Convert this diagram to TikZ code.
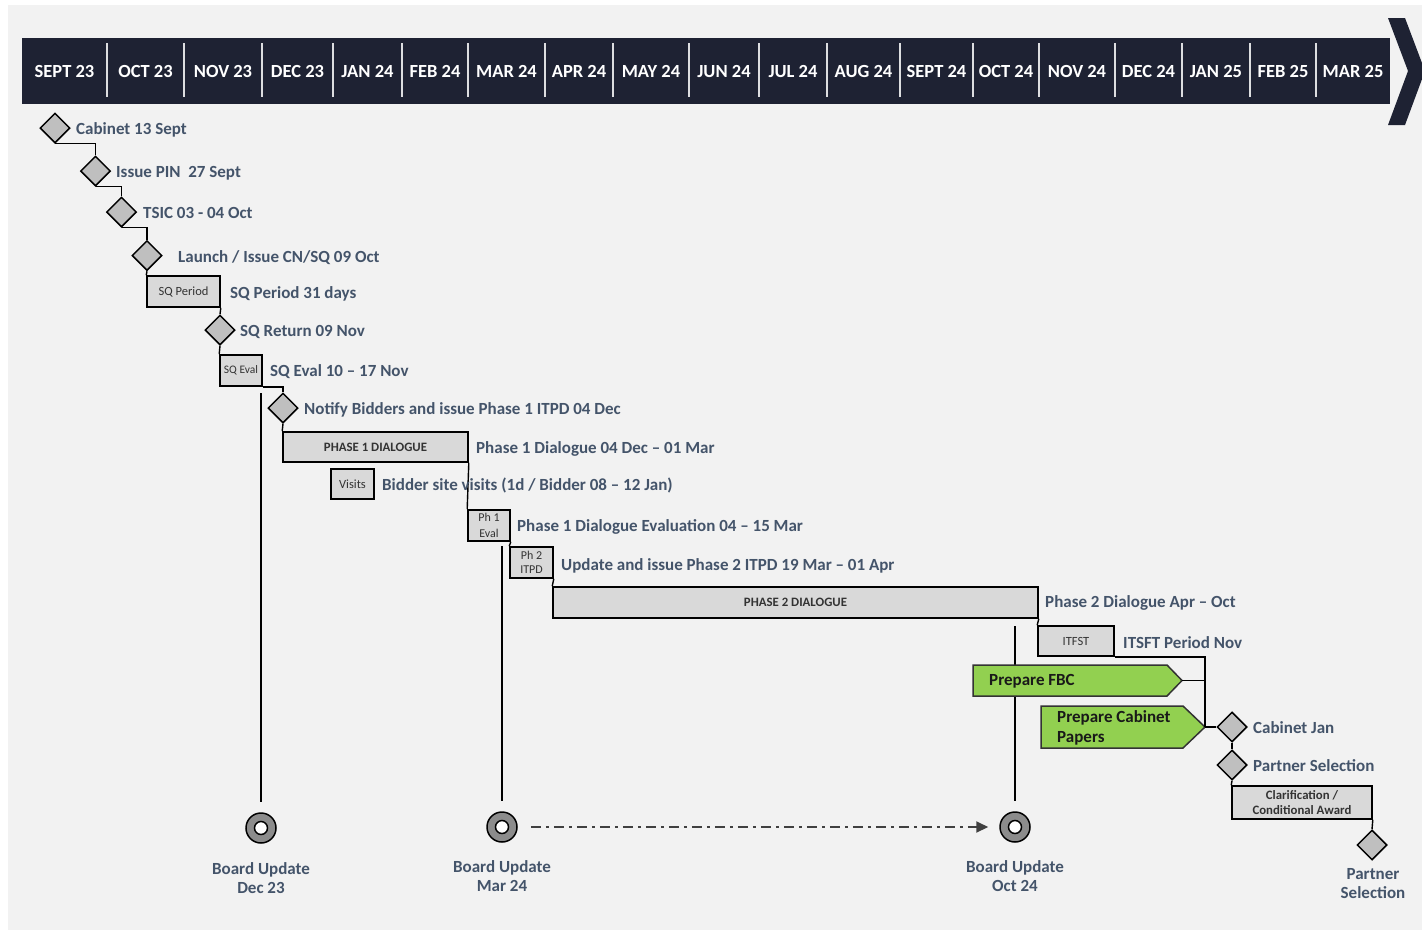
\documentclass[tikz,border=0pt]{standalone}
\usepackage{fontspec}
\setmainfont{Carlito}
\usetikzlibrary{shapes.geometric,arrows.meta}
\definecolor{navy}{HTML}{1E2233}
\definecolor{bggray}{HTML}{F2F2F2}
\definecolor{boxgray}{HTML}{D9D9D9}
\definecolor{diagray}{HTML}{BFBFBF}
\definecolor{lbl}{HTML}{44546A}
\definecolor{grn}{HTML}{92D050}
\newcommand{\fsz}[2]{\fontsize{#1}{#2}\selectfont}
\begin{document}
\begin{tikzpicture}
      [x=1pt,y=-1pt
      ,mon/.style={text=white,font=\fsz{18.5}{22}\bfseries,inner sep=0}
      ,sep/.style={color=white!85!navy,line width=1.5pt}
      ,lin/.style={line width=1.4pt}
      ,ms/.style={diamond,draw,fill=diagray,line width=1.5pt,minimum size=30pt,inner sep=0}
      ,bx/.style={draw,fill=boxgray,line width=1.6pt,inner sep=0,minimum height=31pt,text=black!80,font=\fsz{12.5}{15}}
      ,lab/.style={anchor=west,inner sep=0,text=lbl,font=\fsz{17}{20}\bfseries,text height=14pt,text depth=3.4pt}
      ,gr/.style={draw=black!80,fill=grn,line width=1.5pt}
      ,grt/.style={anchor=west,align=left,inner sep=0,text=black!90,font=\fsz{17}{20}\bfseries}
      ,bu/.style={circle,draw,fill=gray!90,line width=1.5pt,minimum size=30pt,inner sep=0}
      ,but/.style={align=center,text=lbl,font=\fsz{17}{19.5}\bfseries,inner sep=0}
      ]
        \useasboundingbox (0,0) rectangle (1422,932);
        \clip (0,0) rectangle (1422,932);
        \fill[white] (0,0) rectangle (1422,932);
        \fill[bggray] (8,5) rectangle (1422,930);
        % month bar
        \fill[navy] (22,38) rectangle (1390,104);
        \fill[navy] (1388,18) -- (1405,18) -- (1425,71) -- (1405,125) -- (1388,125) -- (1408,71) -- cycle;
        \foreach \x in {107,184,262,333,402,468,545,613,689,759,827,900,973,1039,1115,1182,1250,1316}
          \draw[sep] (\x,43) -- (\x,97);
        \foreach \m/\a/\b [count=\i] in {SEPT 23/22/107,OCT 23/107/184,NOV 23/184/262,DEC 23/262/333,
            JAN 24/333/402,FEB 24/402/468,MAR 24/468/545,APR 24/545/613,MAY 24/613/689,JUN 24/689/759,
            JUL 24/759/827,AUG 24/827/900,SEPT 24/900/973,OCT 24/973/1039,NOV 24/1039/1115,
            DEC 24/1115/1182,JAN 25/1182/1250,FEB 25/1250/1316,MAR 25/1316/1390}
          \node[mon] (mon\i) at ({(\a+\b)/2},71) {\m};
        % board update lines
        \node[bu] (bu1) at (261,828) {};
        \node[bu] (bu2) at (502,827) {};
        \node[bu] (bu3) at (1015,827) {};
        \foreach \n in {bu1,bu2,bu3}
          \draw[line width=1.5pt,fill=white] (\n.center) circle (6.5);
        \coordinate (t1) at (261,393);
        \coordinate (t2) at (502,546);
        \coordinate (t3) at (1015,626);
        \draw[lin,shorten >=10pt] (t1) -- (bu1);
        \draw[lin,shorten >=10pt] (t2) -- (bu2);
        \draw[lin,shorten >=10pt] (t3) -- (bu3);
        \draw[line width=2pt,black!75,dash pattern=on 10pt off 5pt on 3pt off 5pt
             ,-{Triangle[length=12pt,width=11pt]},shorten <=13pt,shorten >=11pt] (bu2) -- (bu3);
        \node[but] (bul1) at (261,878) {Board Update\\Dec 23};
        \node[but] (bul2) at (502,876) {Board Update\\Mar 24};
        \node[but] (bul3) at (1015,876) {Board Update\\Oct 24};
        % milestones and stages
        \node[ms] (cab) at (55,128) {};
        \node[ms] (pin) at (95.5,171) {};
        \node[ms] (tsic) at (121.5,212) {};
        \node[ms] (lau) at (147,255.5) {};
        \node[bx,minimum width=73pt] (sqp) at (183.5,291.5) {SQ Period};
        \node[ms] (sqr) at (220,330) {};
        \node[bx,minimum width=42pt,font=\fsz{11.5}{13}] (sqe) at (241,370.5) {SQ Eval};
        \node[ms] (noti) at (283,408) {};
        \node[bx,minimum width=185pt,minimum height=30pt,font=\fsz{12.8}{14}\bfseries] (ph1) at (375.5,447) {PHASE 1 DIALOGUE};
        \node[bx,minimum width=43pt,minimum height=30pt] (vis) at (352.5,484) {Visits};
        \node[bx,minimum width=42pt,align=center,font=\fsz{12}{15.5}] (ev1) at (489,525.5) {Ph 1\\Eval};
        \node[bx,minimum width=43pt,align=center,font=\fsz{12}{14.5}] (it2) at (531.5,562.5) {Ph 2\\ITPD};
        \node[bx,minimum width=485pt,font=\fsz{12.8}{14}\bfseries] (ph2) at (795.5,602.5) {PHASE 2 DIALOGUE};
        \node[bx,minimum width=76pt,minimum height=30pt] (itf) at (1076,641) {ITFST};
        \node[ms] (cabj) at (1232,727) {};
        \node[ms] (psel) at (1232,765) {};
        \node[bx,minimum width=140pt,minimum height=33pt,align=center,font=\fsz{12.8}{15.5}\bfseries] (clr) at (1302,802.5) {Clarification /\\Conditional Award};
        \node[ms] (fin) at (1372,845) {};
        \node[but] (finl) at (1373,883.5) {Partner\\Selection};
        % green tasks
        \draw[gr] (973,665) -- (1167,665) -- (1182,680.5) -- (1167,696) -- (973,696) -- cycle;
        \draw[gr] (1041,706) -- (1183,706) -- (1205,727) -- (1183,748) -- (1041,748) -- cycle;
        \coordinate (fbct) at (1182,680.5);
        \coordinate (papt) at (1205,727);
        \node[grt] (fbc) at (989,681.5) {Prepare FBC};
        \node[grt] (pap) at (1057,728) {Prepare Cabinet\\Papers};
        % connectors
        \draw[lin] (cab.south) -| (pin.north);
        \draw[lin] (pin.south) -| (tsic.north);
        \draw[lin] (tsic.south) -| (lau.north);
        \draw[lin] (lau.south) -- (sqp.north west);
        \draw[lin] (sqp.south east) -- (sqr.north);
        \draw[lin] (sqr.south) -- (sqe.north west);
        \draw[lin] (sqe.south east) -| (noti.north);
        \draw[lin] (noti.south) -- (ph1.north west);
        \draw[lin] (ph1.south east) -- (ev1.north west);
        \draw[lin] (ev1.south east) -- (it2.north west);
        \draw[lin] (it2.south east) -- (ph2.north west);
        \draw[lin] (ph2.south east) -- (itf.north west);
        \draw[lin] (itf.south east) -| (papt);
        \draw[lin] (fbct) -- (fbct -| papt);
        \draw[lin] (papt) -- (cabj.west);
        \draw[lin] (cabj.south) -- (psel.north);
        \draw[lin] (psel.south) -- (clr.north west);
        \draw[lin] (clr.south east) -- (fin.north);
        % labels
        \node[lab] (cabL) at (76,129) {Cabinet 13 Sept};
        \node[lab] (pinL) at (116,172) {Issue PIN\ \ 27 Sept};
        \node[lab] (tsicL) at (143,213) {TSIC 03 - 04 Oct};
        \node[lab] (lauL) at (178,257) {Launch / Issue CN/SQ 09 Oct};
        \node[lab] (sqpL) at (230,293) {SQ Period 31 days};
        \node[lab] (sqrL) at (240,331) {SQ Return 09 Nov};
        \node[lab] (sqeL) at (270,371) {SQ Eval 10 – 17 Nov};
        \node[lab] (notiL) at (304,409) {Notify Bidders and issue Phase 1 ITPD 04 Dec};
        \node[lab] (ph1L) at (476,448) {Phase 1 Dialogue 04 Dec – 01 Mar};
        \node[lab] (visL) at (382,485) {Bidder site visits (1d / Bidder 08 – 12 Jan)};
        \node[lab] (ev1L) at (517,526) {Phase 1 Dialogue Evaluation 04 – 15 Mar};
        \node[lab] (it2L) at (561,565) {Update and issue Phase 2 ITPD 19 Mar – 01 Apr};
        \node[lab] (ph2L) at (1045,602) {Phase 2 Dialogue Apr – Oct};
        \node[lab] (itfL) at (1123,643) {ITSFT Period Nov};
        \node[lab] (cabjL) at (1253,728) {Cabinet Jan};
        \node[lab] (pselL) at (1253,766) {Partner Selection};
      \end{tikzpicture}
\end{document}
